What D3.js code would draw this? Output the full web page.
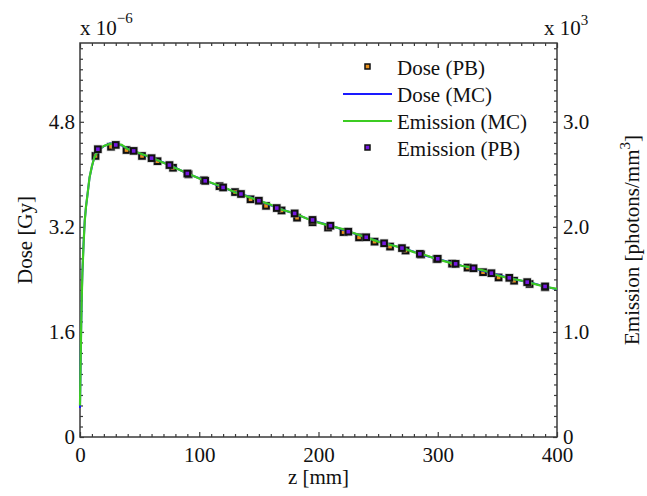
<!DOCTYPE html>
<html>
<head>
<meta charset="utf-8">
<script src="https://cdn.jsdelivr.net/npm/d3@7"></script>
<style>
  body { margin: 0; background: #fff; }
  svg text { font-family: "Liberation Serif", "Times New Roman", serif !important; fill: #111; }
</style>
</head>
<body>
<div id="chart"></div>
<script>
// MC curves (z in mm); dose in 1e-6 Gy, emission in 1e3 photons/mm^3
const zMC = [0, 0.5, 1, 1.5, 2, 3, 4, 5, 6, 8, 10, 12, 15, 20, 25, 30, 35, 40, 50, 60, 70, 80, 90, 100,
  110, 120, 130, 140, 150, 160, 170, 180, 190, 200, 210, 220, 230, 240, 250, 260, 270, 280, 290, 300,
  310, 320, 330, 340, 350, 360, 370, 380, 390, 400];
const doseMC = [0.44, 1.1, 1.7, 2.15, 2.5, 2.95, 3.3, 3.5, 3.65, 3.95, 4.12, 4.26, 4.36, 4.43, 4.47, 4.47, 4.44, 4.39,
  4.32, 4.25, 4.18, 4.10, 4.01, 3.94, 3.87, 3.80, 3.73, 3.67, 3.60, 3.53, 3.46, 3.40, 3.33, 3.27, 3.22, 3.16,
  3.10, 3.04, 2.98, 2.93, 2.88, 2.82, 2.76, 2.71, 2.66, 2.61, 2.57, 2.52, 2.47, 2.42, 2.38, 2.34, 2.29, 2.25];
const emissionMC = [0.30, 0.69, 1.06, 1.34, 1.56, 1.84, 2.06, 2.19, 2.28, 2.47, 2.58, 2.66, 2.73, 2.77, 2.79, 2.79,
  2.78, 2.74, 2.70, 2.66, 2.61, 2.56, 2.51, 2.46, 2.42, 2.38, 2.33, 2.29, 2.25, 2.21, 2.16, 2.13, 2.08, 2.04,
  2.01, 1.98, 1.94, 1.90, 1.86, 1.83, 1.80, 1.76, 1.73, 1.69, 1.66, 1.63, 1.61, 1.58, 1.54, 1.51, 1.49, 1.46,
  1.43, 1.41];

// PB points
const zDosePB = [13, 26, 39, 52, 65, 78, 91, 104, 117, 130, 143, 156, 169, 182, 195, 208, 221, 234, 247, 260,
  273, 286, 299, 312, 325, 338, 351, 364, 377, 390];
const dosePB = [4.28, 4.42, 4.37, 4.28, 4.20, 4.10, 4.00, 3.91, 3.82, 3.73, 3.62, 3.52, 3.45, 3.34, 3.27, 3.19,
  3.12, 3.04, 2.975, 2.90, 2.84, 2.78, 2.71, 2.64, 2.58, 2.51, 2.43, 2.38, 2.33, 2.28];
const zEmisPB = [15, 30, 45, 60, 75, 90, 105, 120, 135, 150, 165, 180, 195, 210, 225, 240, 255, 270, 285, 300,
  315, 330, 345, 360, 375, 390];
const emissionPB = [2.739, 2.780, 2.723, 2.654, 2.588, 2.508, 2.438, 2.375, 2.313, 2.249, 2.179, 2.128, 2.066,
  2.011, 1.954, 1.901, 1.844, 1.798, 1.743, 1.696, 1.648, 1.606, 1.559, 1.515, 1.474, 1.433];

const xTicks = [0, 100, 200, 300, 400];
const leftTicks = [0, 1.6, 3.2, 4.8];
const rightTicks = [0, 1.0, 2.0, 3.0];
const legendItems = ["Dose (PB)", "Dose (MC)", "Emission (MC)", "Emission (PB)"];

const W = 647, H = 496;
const margin = { top: 43, right: 90, bottom: 59, left: 80 };
const width = W - margin.left - margin.right;
const height = H - margin.top - margin.bottom;
const serif = "'Liberation Serif', 'Times New Roman', serif";

const cOrange = "#e8901c", cPurple = "#7418e0", cBlue = "#1a1aff", cGreen = "#3ccc22", cAxis = "#3a3a3a";

let svg = d3.select("#chart").append("svg")
  .attr("width", W).attr("height", H)
  .attr("font-family", serif);
let g = svg.append("g").attr("transform", "translate(" + margin.left + "," + margin.top + ")");

let x = d3.scaleLinear().domain([0, 400]).range([0, width]);
let yL = d3.scaleLinear().domain([0, 6]).range([height, 0]);
let yR = d3.scaleLinear().domain([0, 3.75]).range([height, 0]);

const xMinor = d3.range(0, 401, 10).filter(v => v % 100 !== 0);
const lMinor = d3.range(0, 38).map(i => +(i * 0.16).toFixed(2)).filter(v => v <= 6 && Math.round(v / 0.16) % 10 !== 0);
const rMinor = d3.range(0, 38).map(i => +(i * 0.1).toFixed(2)).filter(v => v <= 3.75 && Math.round(v * 10) % 10 !== 0);

function styleAxis(sel, fs) {
  sel.attr("font-family", serif);
  sel.select(".domain").remove();
  sel.selectAll("line").attr("stroke", cAxis).attr("stroke-width", 1.2);
  sel.selectAll("text").style("font-size", fs + "px").style("font-family", serif).attr("fill", "#111");
}

// bottom axis
g.append("g").attr("transform", "translate(0," + height + ")")
  .call(d3.axisBottom(x).tickValues(xTicks).tickSize(-5).tickPadding(10).tickFormat(d3.format("d")))
  .call(s => styleAxis(s, 21));
g.append("g").attr("transform", "translate(0," + height + ")")
  .call(d3.axisBottom(x).tickValues(xMinor).tickSize(-3).tickFormat(""))
  .call(s => styleAxis(s, 21));
// top axis (ticks only)
g.append("g")
  .call(d3.axisTop(x).tickValues(xTicks).tickSize(-5).tickFormat(""))
  .call(s => styleAxis(s, 21));
g.append("g")
  .call(d3.axisTop(x).tickValues(xMinor).tickSize(-3).tickFormat(""))
  .call(s => styleAxis(s, 21));
// left axis
g.append("g")
  .call(d3.axisLeft(yL).tickValues(leftTicks).tickSize(-4).tickPadding(5).tickFormat(d => d === 0 ? "0" : d3.format(".1f")(d)))
  .call(s => styleAxis(s, 21));
g.append("g")
  .call(d3.axisLeft(yL).tickValues(lMinor).tickSize(-3).tickFormat(""))
  .call(s => styleAxis(s, 21));
// right axis
g.append("g").attr("transform", "translate(" + width + ",0)")
  .call(d3.axisRight(yR).tickValues(rightTicks).tickSize(-4).tickPadding(6).tickFormat(d => d === 0 ? "0" : d3.format(".1f")(d)))
  .call(s => styleAxis(s, 21));
g.append("g").attr("transform", "translate(" + width + ",0)")
  .call(d3.axisRight(yR).tickValues(rMinor).tickSize(-3).tickFormat(""))
  .call(s => styleAxis(s, 21));

// frame
g.append("rect").attr("width", width).attr("height", height)
  .attr("fill", "none").attr("stroke", cAxis).attr("stroke-width", 1.5);

function square(sel, data, xs, ys, fill) {
  let pts = sel.selectAll(null).data(data).enter().append("g")
    .attr("transform", d => "translate(" + xs(d) + "," + ys(d) + ")");
  pts.append("rect").attr("x", -4.5).attr("y", -4.5).attr("width", 9).attr("height", 9)
    .attr("fill", "#999").attr("opacity", 0.45);
  pts.append("rect").attr("x", -2.8).attr("y", -2.8).attr("width", 5.6).attr("height", 5.6)
    .attr("fill", fill).attr("stroke", "#111").attr("stroke-width", 2);
}

// Dose (PB)
square(g, d3.range(zDosePB.length), i => x(zDosePB[i]), i => yL(dosePB[i]), cOrange);

// Dose (MC)
g.append("path").datum(d3.range(zMC.length))
  .attr("d", d3.line().x(i => x(zMC[i])).y(i => yL(doseMC[i])))
  .attr("fill", "none").attr("stroke", cBlue).attr("stroke-width", 2);
// Emission (MC)
g.append("path").datum(d3.range(zMC.length))
  .attr("d", d3.line().x(i => x(zMC[i])).y(i => yR(emissionMC[i])))
  .attr("fill", "none").attr("stroke", cGreen).attr("stroke-width", 2.2);

// Emission (PB)
square(g, d3.range(zEmisPB.length), i => x(zEmisPB[i]), i => yR(emissionPB[i]), cPurple);

// legend
let lg = svg.append("g").attr("transform", "translate(343,67)");
legendItems.forEach((name, i) => {
  let row = lg.append("g").attr("transform", "translate(0," + (i * 27) + ")");
  if (i === 0 || i === 3) {
    row.append("rect").attr("x", 22).attr("y", -3).attr("width", 5).attr("height", 5)
      .attr("fill", i === 0 ? cOrange : cPurple).attr("stroke", "#111").attr("stroke-width", 1.5);
  } else {
    row.append("line").attr("x1", 0).attr("x2", 49).attr("y1", 0).attr("y2", 0)
      .attr("stroke", i === 1 ? cBlue : cGreen).attr("stroke-width", 2);
  }
  row.append("text").attr("x", 54).attr("y", 8).style("font-size", "21px").text(name);
});

// axis titles
svg.append("text").attr("x", margin.left + width / 2).attr("y", 484)
  .attr("text-anchor", "middle").style("font-size", "21px").text("z [mm]");
svg.append("text").attr("transform", "translate(32," + (margin.top + height / 2) + ") rotate(-90)")
  .attr("text-anchor", "middle").style("font-size", "21px").text("Dose [Gy]");
let et = svg.append("text").attr("transform", "translate(639," + (margin.top + height / 2) + ") rotate(-90)")
  .attr("text-anchor", "middle").style("font-size", "21px");
et.append("tspan").text("Emission [photons/mm");
et.append("tspan").attr("dy", -9).style("font-size", "15px").text("3");
et.append("tspan").attr("dy", 9).text("]");

// multipliers
let m1 = svg.append("text").attr("x", 80).attr("y", 35).style("font-size", "21px");
m1.append("tspan").text("x 10");
m1.append("tspan").attr("dy", -12).style("font-size", "15px").text("\u22126");
let m2 = svg.append("text").attr("x", 544).attr("y", 35).style("font-size", "21px");
m2.append("tspan").text("x 10");
m2.append("tspan").attr("dy", -10).style("font-size", "15px").text("3");
</script>
</body>
</html>
